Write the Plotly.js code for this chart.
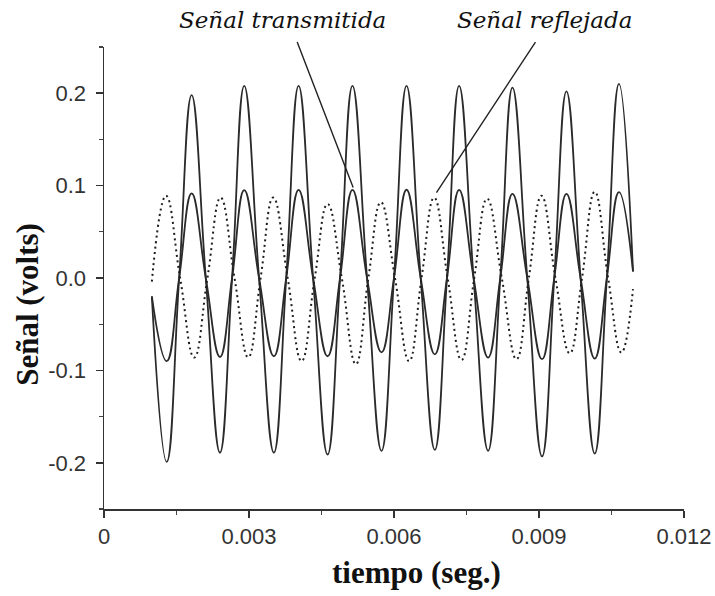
<!DOCTYPE html>
<html>
<head>
<meta charset="utf-8">
<script src="https://cdn.plot.ly/plotly-3.0.1.min.js"></script>
<style>html,body{margin:0;padding:0;background:#fff;}#chart{width:715px;height:596px;}</style>
</head>
<body>
<div id="chart"></div>
<script>
// Señal transmitida (large) and its smaller in-phase component, sampled at start, extrema, zero crossings, end
const tTrans = [0.00099, 0.001297, 0.001555, 0.001813, 0.002106, 0.002399, 0.00265, 0.002901, 0.003208, 0.003515, 0.00377, 0.004026, 0.004326, 0.004626, 0.004884, 0.005141, 0.005442, 0.005742, 0.006, 0.006259, 0.006552, 0.006845, 0.007096, 0.007347, 0.007647, 0.007947, 0.008199, 0.008451, 0.008757, 0.009063, 0.009316, 0.009568, 0.00986, 0.010153, 0.010404, 0.010655, 0.010945];
const vLarge = [-0.02, -0.199, 0, 0.198, 0, -0.189, 0, 0.208, 0, -0.189, 0, 0.208, 0, -0.191, 0, 0.208, 0, -0.187, 0, 0.208, 0, -0.186, 0, 0.208, 0, -0.187, 0, 0.206, 0, -0.193, 0, 0.202, 0, -0.190, 0, 0.210, 0.007];
const vMedium = [-0.02, -0.090, 0, 0.0915, 0, -0.0855, 0, 0.095, 0, -0.0847, 0, 0.0954, 0, -0.0847, 0, 0.0954, 0, -0.0804, 0, 0.0955, 0, -0.0826, 0, 0.0954, 0, -0.0861, 0, 0.091, 0, -0.0879, 0, 0.091, 0, -0.0872, 0, 0.093, 0.007];
// Señal reflejada (dotted)
const tRefl = [0.00099, 0.001282, 0.001575, 0.001867, 0.00214, 0.002413, 0.0027, 0.002984, 0.00324, 0.003501, 0.0038, 0.004088, 0.00436, 0.004626, 0.00492, 0.005211, 0.00547, 0.005728, 0.00602, 0.006313, 0.00657, 0.00683, 0.00711, 0.007397, 0.00766, 0.007926, 0.00823, 0.008534, 0.00879, 0.009051, 0.00934, 0.009636, 0.00989, 0.010153, 0.01043, 0.010705, 0.010945];
const vRefl = [-0.004, 0.089, 0, -0.0861, 0, 0.087, 0, -0.0858, 0, 0.087, 0, -0.090, 0, 0.080, 0, -0.0933, 0, 0.082, 0, -0.090, 0, 0.0869, 0, -0.0887, 0, 0.0858, 0, -0.0879, 0, 0.089, 0, -0.0815, 0, 0.0933, 0, -0.0807, -0.012];

const xTickVals = [0, 0.003, 0.006, 0.009, 0.012];
const xTickText = ['0', '0.003', '0.006', '0.009', '0.012'];
const yTickVals = [-0.2, -0.1, 0, 0.1, 0.2];
const yTickText = ['-0.2', '-0.1', '0.0', '0.1', '0.2'];

const lineCol = '#2a2a2a';
const traces = [
  {x: tTrans, y: vLarge, mode: 'lines', line: {color: lineCol, width: 1.8, shape: 'spline', smoothing: 1.3}, hoverinfo: 'skip'},
  {x: tTrans, y: vMedium, mode: 'lines', line: {color: lineCol, width: 1.8, shape: 'spline', smoothing: 1.3}, hoverinfo: 'skip'},
  {x: tRefl, y: vRefl, mode: 'lines', line: {color: '#1e1e1e', width: 2, dash: '2px,3.5px', shape: 'spline', smoothing: 1.3}, hoverinfo: 'skip'}
];

const annFont = {family: 'DejaVu Serif', size: 23, color: '#111', style: 'italic'};
const titleFont = {family: 'Liberation Serif', size: 31, color: '#111'};
const layout = {
  width: 715, height: 596,
  margin: {l: 104, r: 31, t: 47, b: 87},
  paper_bgcolor: '#fff', plot_bgcolor: '#fff',
  showlegend: false,
  xaxis: {
    range: [0, 0.012], tickmode: 'array', tickvals: xTickVals, ticktext: xTickText,
    showgrid: false, zeroline: false, showline: true, linecolor: '#333', linewidth: 1.5,
    ticks: 'outside', ticklen: 7, tickwidth: 1.5, tickcolor: '#333',
    minor: {dtick: 0.0015, tick0: 0, ticks: 'outside', ticklen: 4, tickwidth: 1.2, tickcolor: '#444', showgrid: false},
    tickfont: {family: 'Liberation Sans', size: 22, color: '#333'}
  },
  yaxis: {
    range: [-0.25, 0.25], tickmode: 'array', tickvals: yTickVals, ticktext: yTickText,
    showgrid: false, zeroline: false, showline: true, linecolor: '#333', linewidth: 1.5,
    ticks: 'outside', ticklen: 7, tickwidth: 1.5, tickcolor: '#333', ticklabelstandoff: 5,
    minor: {dtick: 0.05, tick0: 0, ticks: 'outside', ticklen: 4, tickwidth: 1.2, tickcolor: '#444', showgrid: false},
    tickfont: {family: 'Liberation Sans', size: 22, color: '#333'}
  },
  annotations: [
    {xref: 'paper', yref: 'paper', x: 0.538, y: -0.1364, xanchor: 'center', yanchor: 'middle', text: '<b>tiempo (seg.)</b>', showarrow: false, font: titleFont},
    {xref: 'paper', yref: 'paper', x: -0.1310, y: 0.442, xanchor: 'center', yanchor: 'middle', textangle: -90, text: '<b>Señal (volts)</b>', showarrow: false, font: titleFont},
    {xref: 'x', yref: 'paper', x: 0.0037, y: 1.058, yanchor: 'middle', text: 'Señal transmitida', showarrow: false, font: annFont},
    {xref: 'x', yref: 'paper', x: 0.00912, y: 1.058, yanchor: 'middle', text: 'Señal reflejada', showarrow: false, font: annFont},
    {xref: 'x', yref: 'y', axref: 'x', ayref: 'y', x: 0.005155, y: 0.0979, ax: 0.003985, ay: 0.257, text: '', showarrow: true, arrowhead: 0, arrowwidth: 1.4, arrowcolor: '#222'},
    {xref: 'x', yref: 'y', axref: 'x', ayref: 'y', x: 0.006878, y: 0.0925, ax: 0.008947, ay: 0.257, text: '', showarrow: true, arrowhead: 0, arrowwidth: 1.4, arrowcolor: '#222'}
  ]
};
Plotly.newPlot('chart', traces, layout, {displayModeBar: false, staticPlot: true});
</script>
</body>
</html>
